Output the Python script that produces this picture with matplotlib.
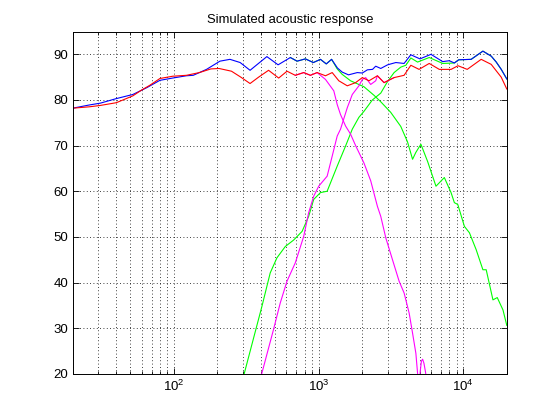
import matplotlib
matplotlib.use('Agg')
import matplotlib.pyplot as plt
from matplotlib.ticker import LogLocator, NullFormatter

# summed responses
freq_blue = [20, 26, 31, 40, 52, 65, 80, 98, 122, 136,
             168, 208, 244, 287, 336, 439, 525, 638, 710, 810,
             920, 1030, 1130, 1230, 1350, 1457, 1610, 1852, 2006, 2174,
             2360, 2482, 2690, 3000, 3420, 3900, 4340, 5020, 5980, 7210,
             8010, 8680, 9300, 11340, 13670, 15610, 16910, 18310, 20000]
spl_blue = [78.2, 78.9, 79.3, 80.3, 81.2, 82.7, 84.3, 84.8, 85.3, 85.4,
            86.7, 88.5, 88.9, 88.2, 86.5, 89.5, 87.7, 89.3, 88.5, 89.0,
            88.2, 88.9, 87.9, 88.9, 87.0, 86.1, 85.5, 86.0, 85.9, 86.6,
            86.7, 87.4, 86.9, 87.7, 88.2, 88.0, 89.9, 89.0, 90.0, 88.4,
            88.6, 88.1, 88.8, 88.9, 90.7, 89.6, 88.3, 86.7, 84.6]

freq_red = [20, 26, 31, 40, 52, 60, 68, 80, 98, 122,
            150, 180, 205, 250, 290, 336, 385, 451, 530, 605,
            690, 789, 878, 977, 1116, 1242, 1380, 1579, 1803, 2006,
            2230, 2550, 2835, 3326, 3900, 4343, 4950, 5818, 6830, 8240,
            9200, 10650, 13300, 15600, 18300, 20000]
spl_red = [78.2, 78.5, 78.8, 79.4, 80.9, 82.2, 83.2, 84.7, 85.2, 85.4,
           86.0, 86.8, 86.9, 86.3, 85.0, 83.6, 85.0, 86.5, 84.8, 86.3,
           85.4, 86.0, 85.4, 86.0, 85.3, 86.0, 84.2, 83.1, 83.8, 84.9,
           84.2, 85.3, 83.8, 84.9, 85.4, 87.6, 86.7, 88.0, 86.7, 86.7,
           87.5, 86.7, 88.9, 87.8, 85.0, 82.4]

# drivers, first alignment (green)
freq_green_lo = [638, 710, 810, 920, 1030, 1130, 1230, 1345, 1457, 1664,
                 2058, 2420, 2690, 3150, 3700, 4120, 4463, 4700, 5096, 5674,
                 6478, 7400, 8236, 8682, 9166, 10186, 11034, 12282, 13670, 14410,
                 16042, 17182, 18816, 20000]
spl_green_lo = [89.3, 88.5, 89.0, 88.2, 88.9, 87.9, 88.9, 86.8, 85.6, 84.2,
                82.9, 81.0, 79.6, 77.3, 74.2, 70.8, 67.0, 68.5, 70.3, 66.5,
                61.1, 63.0, 59.7, 57.5, 57.1, 52.3, 50.9, 47.2, 42.8, 42.8,
                36.2, 36.7, 34.0, 30.6]

freq_green_hi = [290, 306, 406, 463, 515, 589, 672, 769, 854, 925,
                 1030, 1146, 1345, 1536, 1710, 1900, 2058, 2354, 2690, 2992,
                 3326, 3702, 4010, 4343, 4834, 5818, 7212, 8680, 9300, 11340,
                 13670, 15610, 16910, 18310, 20000]
spl_green_hi = [17.0, 20.0, 34.8, 42.1, 45.4, 47.9, 49.3, 51.2, 54.5, 58.2,
                59.7, 60.0, 65.5, 69.9, 73.6, 76.2, 77.5, 80.0, 81.5, 84.0,
                86.0, 87.2, 87.6, 89.2, 88.3, 89.3, 88.0, 88.1, 88.8, 88.9,
                90.7, 89.6, 88.3, 86.7, 84.6]

# drivers, second alignment (magenta)
freq_mag_lo = [690, 789, 878, 977, 1116, 1274, 1345, 1418, 1536, 1664,
               1803, 2058, 2292, 2550, 2690, 2914, 3242, 3602, 3902, 4227,
               4463, 4704, 4834, 4930, 5040, 5140, 5236, 5350, 5490, 5630,
               5900]
spl_mag_lo = [85.4, 86.0, 85.4, 86.0, 84.5, 82.0, 79.0, 76.8, 74.3, 72.5,
              70.0, 66.2, 62.3, 56.7, 54.5, 49.8, 45.0, 40.3, 37.7, 33.3,
              28.9, 24.5, 20.1, 16.0, 20.5, 22.8, 23.2, 22.3, 20.3, 17.0,
              12.0]

freq_mag_hi = [395, 406, 488, 543, 605, 690, 789, 854, 925, 1002,
               1146, 1242, 1345, 1418, 1579, 1710, 1900, 2006, 2116, 2292,
               2482, 2550, 2835, 3326]
spl_mag_hi = [18.5, 20.2, 29.7, 35.5, 40.3, 44.3, 50.1, 55.3, 58.9, 61.1,
              63.3, 67.7, 72.1, 73.6, 78.3, 81.2, 83.1, 84.5, 84.9, 83.4,
              84.2, 85.3, 83.8, 84.9]

plt.rcParams['font.family'] = ['Liberation Sans', 'DejaVu Sans']

fig = plt.figure(figsize=(5.6, 4.2), dpi=100)
ax = fig.add_axes([0.13, 0.11, 0.775, 0.815])

lw = 0.8
ax.semilogx(freq_green_lo, spl_green_lo, color=(0, 1, 0), lw=lw)
ax.semilogx(freq_green_hi, spl_green_hi, color=(0, 1, 0), lw=lw)
ax.semilogx(freq_mag_lo, spl_mag_lo, color=(1, 0, 1), lw=lw)
ax.semilogx(freq_mag_hi, spl_mag_hi, color=(1, 0, 1), lw=lw)
ax.semilogx(freq_blue, spl_blue, color=(0, 0, 1), lw=lw)
ax.semilogx(freq_red, spl_red, color=(1, 0, 0), lw=lw)

ax.set_xlim(20, 20000)
ax.set_ylim(20, 95)
ax.set_yticks([20, 30, 40, 50, 60, 70, 80, 90])
ax.xaxis.set_major_locator(LogLocator(base=10))
ax.xaxis.set_minor_locator(LogLocator(base=10, subs=range(2, 10)))
ax.xaxis.set_minor_formatter(NullFormatter())

grid_style = dict(color='k', linestyle=(0, (1, 3)), linewidth=0.6)
ax.grid(True, which='major', **grid_style)
ax.grid(True, which='minor', axis='x', **grid_style)

ax.tick_params(which='both', direction='in', top=True, right=True,
               labelsize=9.5, width=0.6)
ax.tick_params(which='major', length=4)
ax.tick_params(which='minor', length=2)
for s in ax.spines.values():
    s.set_linewidth(0.7)

ax.set_title('Simulated acoustic response', fontsize=9.4, pad=6)

fig.savefig('out.png', dpi=100)
